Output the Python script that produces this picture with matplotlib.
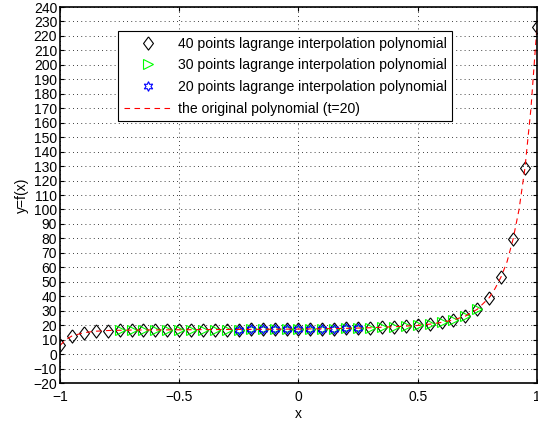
import numpy as np
import matplotlib
matplotlib.use('Agg')
import matplotlib.pyplot as plt

# 40 point interpolation samples
x40 = [-1.00, -0.95, -0.90, -0.85, -0.80, -0.75, -0.70, -0.65, -0.60, -0.55,
       -0.50, -0.45, -0.40, -0.35, -0.30, -0.25, -0.20, -0.15, -0.10, -0.05,
       0.00, 0.05, 0.10, 0.15, 0.20, 0.25, 0.30, 0.35, 0.40, 0.45,
       0.50, 0.55, 0.60, 0.65, 0.70, 0.75, 0.80, 0.85, 0.90, 0.95, 1.00]
y40 = [6.0, 12.5, 14.8, 15.8, 16.3, 16.5, 16.6, 16.7, 16.7, 16.8,
       16.8, 16.9, 16.9, 17.0, 17.0, 17.0, 17.1, 17.1, 17.2, 17.2,
       17.3, 17.4, 17.5, 17.6, 17.8, 18.0, 18.2, 18.5, 18.9, 19.3,
       19.8, 20.7, 21.9, 23.6, 26.3, 31.0, 39.0, 53.5, 79.5, 129.0, 226.0]

# 30 point interpolation samples
x30 = [-0.75, -0.70, -0.65, -0.60, -0.55, -0.50, -0.45, -0.40, -0.35, -0.30,
       -0.25, -0.20, -0.15, -0.10, -0.05, 0.00, 0.05, 0.10, 0.15, 0.20,
       0.25, 0.30, 0.35, 0.40, 0.45, 0.50, 0.55, 0.60, 0.65, 0.70, 0.75]
y30 = [16.5, 16.6, 16.7, 16.7, 16.8, 16.8, 16.9, 16.9, 17.0, 17.0,
       17.0, 17.1, 17.1, 17.2, 17.2, 17.3, 17.4, 17.5, 17.6, 17.8,
       18.0, 18.2, 18.5, 18.9, 19.3, 19.8, 20.7, 21.9, 23.6, 26.3, 31.0]

# 20 point interpolation samples
x20 = [-0.25, -0.20, -0.15, -0.10, -0.05, 0.00, 0.05, 0.10, 0.15, 0.20, 0.25]
y20 = [17.0, 17.1, 17.1, 17.2, 17.2, 17.3, 17.4, 17.5, 17.6, 17.8, 18.0]

# original polynomial (t=20)
x_orig = [-1.00, -0.975, -0.95, -0.90, -0.85, -0.80, -0.70, -0.60, -0.50, -0.40,
          -0.30, -0.20, -0.10, 0.00, 0.10, 0.20, 0.30, 0.40, 0.50, 0.55,
          0.60, 0.65, 0.70, 0.75, 0.80, 0.825, 0.85, 0.875, 0.90, 0.925,
          0.95, 0.975, 1.00]
y_orig = [6.0, 10.0, 12.5, 14.8, 15.8, 16.3, 16.6, 16.7, 16.8, 16.9,
          17.0, 17.1, 17.2, 17.3, 17.5, 17.8, 18.2, 18.9, 19.8, 20.7,
          21.9, 23.6, 26.3, 31.0, 39.0, 45.5, 53.5, 64.0, 79.5, 100.0,
          129.0, 170.0, 226.0]

labels = ['40 points lagrange interpolation polynomial',
          '30 points lagrange interpolation polynomial',
          '20 points lagrange interpolation polynomial',
          'the original polynomial (t=20)']

plt.rcParams['font.family'] = ['Liberation Sans', 'DejaVu Sans']
plt.rcParams['font.size'] = 10

diamond = [(0, 1), (0.75, 0), (0, -1), (-0.75, 0), (0, 1)]

fig = plt.figure(figsize=(5.38, 4.25), dpi=100)
ax = fig.add_axes([0.1115, 0.0988, 0.8865, 0.8847])

ax.plot(x40, y40, linestyle='none', marker=diamond, markersize=9.5,
        mfc='none', mec='k', mew=0.8, label=labels[0])
ax.plot(x30, y30, linestyle='none', marker='>', markersize=7.5,
        mfc='none', mec=(0, 1, 0), mew=0.8, label=labels[1])
ax.plot(x20, y20, linestyle='none', marker=(6, 1, 0), markersize=7,
        mfc='none', mec='b', mew=0.8, label=labels[2])
ax.plot(x_orig, y_orig, color='r', linestyle=(0, (5, 4)), linewidth=0.8,
        label=labels[3])

ax.set_xlim(-1, 1)
ax.set_ylim(-20, 240)
ax.set_xticks([-1, -0.5, 0, 0.5, 1])
ax.set_xticklabels(['\u22121', '\u22120.5', '0', '0.5', '1'])
yt = list(range(-20, 241, 10))
ax.set_yticks(yt)
ax.set_yticklabels([str(v).replace('-', '\u2212') for v in yt])
ax.tick_params(direction='in', top=True, right=True, length=3, width=0.8,
               pad=2, labelsize=10)
ax.tick_params(axis='x', pad=5)
for s in ax.spines.values():
    s.set_linewidth(1.2)

ax.grid(True, color='k', linestyle=(0, (1, 4)), linewidth=0.6)
ax.set_xlabel('x', labelpad=2)
ax.set_ylabel('y=f(x)', labelpad=3)

leg = ax.legend(loc='upper left', bbox_to_anchor=(0.1216, 0.936),
                borderaxespad=0, fancybox=False, framealpha=1,
                edgecolor='k', fontsize=10.1, handlelength=3.5,
                handletextpad=0.35, borderpad=0.4, labelspacing=0.55)
leg.get_frame().set_linewidth(0.8)

fig.savefig('out.png', dpi=100)
